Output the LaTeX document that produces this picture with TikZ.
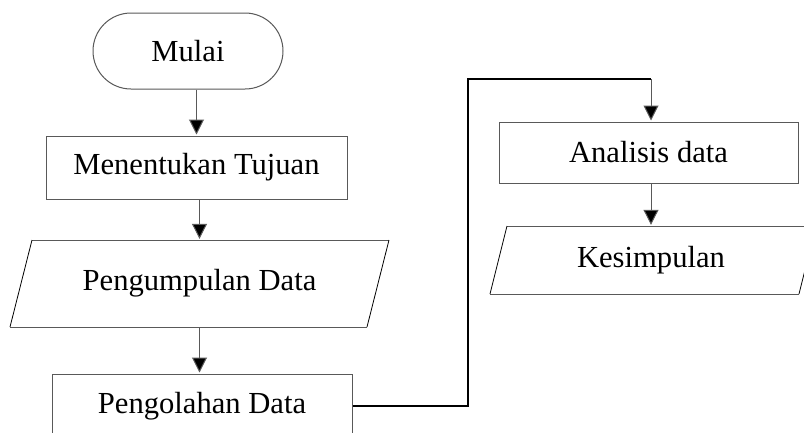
\documentclass[tikz,border=0pt]{standalone}
\usepackage{fontspec}
\setmainfont{Liberation Serif}
\usetikzlibrary{arrows.meta,shapes.misc}
\begin{document}
\begin{tikzpicture}[x=1pt,y=-1pt,
  every node/.style={font=\fontsize{30.6}{36}\selectfont, text=black},
  boxline/.style={draw=black!65, line width=1pt},
  procbox/.style={boxline, rectangle, inner sep=0pt},
  termbox/.style={boxline, rounded rectangle, inner sep=0pt, minimum width=190pt, minimum height=76pt},
  textonly/.style={inner sep=0pt},
  flowarrow/.style={draw=black!65, line width=1pt, -{Triangle[length=15pt,width=15pt,fill=black]}, shorten >=1pt},
  thickline/.style={draw=black, line width=2pt}
]
\clip (0,0) rectangle (804,432);
\fill[white] (0,0) rectangle (804,432);

% Mulai
\node[termbox] (mulai) at (188,51) {Mulai};
% Menentukan Tujuan
\node[procbox, minimum width=301pt, minimum height=63pt] (mt) at (196.5,167.5) {Menentukan Tujuan};
% Pengumpulan Data (parallelogram)
\draw[black!65, line width=1pt] (32,240) -- (389,240);
\draw[black!65, line width=1pt] (10,327) -- (367,327);
\draw[black, line width=0.8pt] (32,240) -- (10,327);
\draw[black, line width=0.8pt] (389,240) -- (367,327);
\node[textonly, minimum width=300pt, minimum height=87pt] (pg) at (199.5,283.5) {Pengumpulan Data};
% Pengolahan Data
\node[procbox, minimum width=300pt, minimum height=64pt] (po) at (202,406) {Pengolahan Data};
% Analisis data
\node[procbox, minimum width=299pt, minimum height=61pt] (an) at (648.5,152.5) {Analisis data};
% Kesimpulan (parallelogram)
\draw[black!65, line width=1pt] (507,226) -- (816,226);
\draw[black!65, line width=1pt] (490,294) -- (799,294);
\draw[black, line width=0.8pt] (507,226) -- (490,294);
\draw[black, line width=0.8pt] (816,226) -- (799,294);
\node[textonly, minimum width=290pt, minimum height=68pt] (ks) at (651,260) {Kesimpulan};

% connectors
\draw[flowarrow] (mt.north |- mulai.south) -- (mt.north);
\draw[flowarrow] (pg.north |- mt.south) -- (pg.north);
\draw[flowarrow] (pg.south) -- (pg.south |- po.north);
\coordinate (c1) at (468,79);
\coordinate (c2) at (651,79);
\draw[thickline] (po.east) -| (c1) -- (c2);
\draw[flowarrow] (c2) -- (c2 |- an.north);
\draw[flowarrow] (ks.north |- an.south) -- (ks.north);
\end{tikzpicture}
\end{document}
